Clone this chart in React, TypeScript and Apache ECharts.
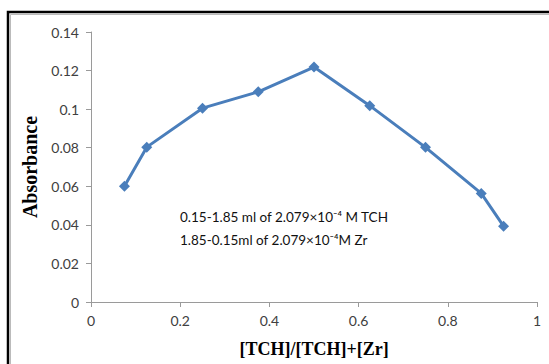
import React, { useEffect, useRef } from "react";
import * as echarts from "echarts";

const xValues = [0.075, 0.125, 0.25, 0.375, 0.5, 0.625, 0.75, 0.875, 0.925];
const absorbance = [0.06, 0.0803, 0.1005, 0.109, 0.1218, 0.1018, 0.0802, 0.0563, 0.0393];
const xTitle = "[TCH]/[TCH]+[Zr]";
const yTitle = "Absorbance";
const noteLines = [
  "0.15-1.85 ml of 2.079×10⁻⁴ M TCH",
  "1.85-0.15ml of 2.079×10⁻⁴M Zr",
];

export default function App() {
  const ref = useRef<HTMLDivElement>(null);
  useEffect(() => {
    if (!ref.current) return;
    const chart = echarts.init(ref.current, undefined, { renderer: "svg" });
    const labelStyle = { color: "#404040", fontFamily: "Lato", fontSize: 14 };
    chart.setOption({
      animation: false,
      backgroundColor: "#fff",
      grid: { left: 91, right: 12, top: 32, bottom: 62 },
      xAxis: {
        type: "value",
        min: 0,
        max: 1,
        interval: 0.2,
        name: xTitle,
        nameLocation: "middle",
        nameGap: 38,
        nameTextStyle: { fontFamily: "Liberation Serif", fontWeight: "bold", fontSize: 18, color: "#000" },
        axisLine: { show: true, lineStyle: { color: "#9a9a9a", width: 1 } },
        axisTick: { show: true, length: 5, lineStyle: { color: "#9a9a9a" } },
        axisLabel: { ...labelStyle, margin: 11 },
        splitLine: { show: false },
      },
      yAxis: {
        type: "value",
        min: 0,
        max: 0.14,
        interval: 0.02,
        name: yTitle,
        nameLocation: "middle",
        nameGap: 44,
        nameTextStyle: { fontFamily: "Liberation Serif", fontWeight: "bold", fontSize: 20, color: "#000" },
        axisLine: { show: true, lineStyle: { color: "#9a9a9a", width: 1 } },
        axisTick: { show: true, length: 5, lineStyle: { color: "#9a9a9a" } },
        axisLabel: { ...labelStyle, margin: 12 },
        splitLine: { show: false },
      },
      series: [
        {
          type: "line",
          data: xValues.map((x, i) => [x, absorbance[i]]),
          symbol: "diamond",
          symbolSize: 11,
          lineStyle: { color: "#4a7ebb", width: 3 },
          itemStyle: { color: "#4a7ebb" },
        },
      ],
      graphic: [
        {
          type: "rect",
          shape: { x: 8, y: 12, width: 620, height: 420 },
          style: { fill: "none", stroke: "#000", lineWidth: 2.5 },
          silent: true,
        },
        {
          type: "rect",
          shape: { x: 10.5, y: 14.5, width: 620, height: 420 },
          style: { fill: "none", stroke: "#bbb", lineWidth: 1 },
          silent: true,
        },
        {
          type: "text",
          x: 180,
          y: 205,
          style: {
            text: noteLines.join("\n"),
            fontFamily: "Lato",
            fontSize: 13.5,
            lineHeight: 23,
            fill: "#111",
          },
        },
      ],
    });
    return () => chart.dispose();
  }, []);
  return (
    <div
      ref={ref}
      style={{ position: "fixed", left: 0, top: 0, width: 549, height: 364 }}
    />
  );
}
